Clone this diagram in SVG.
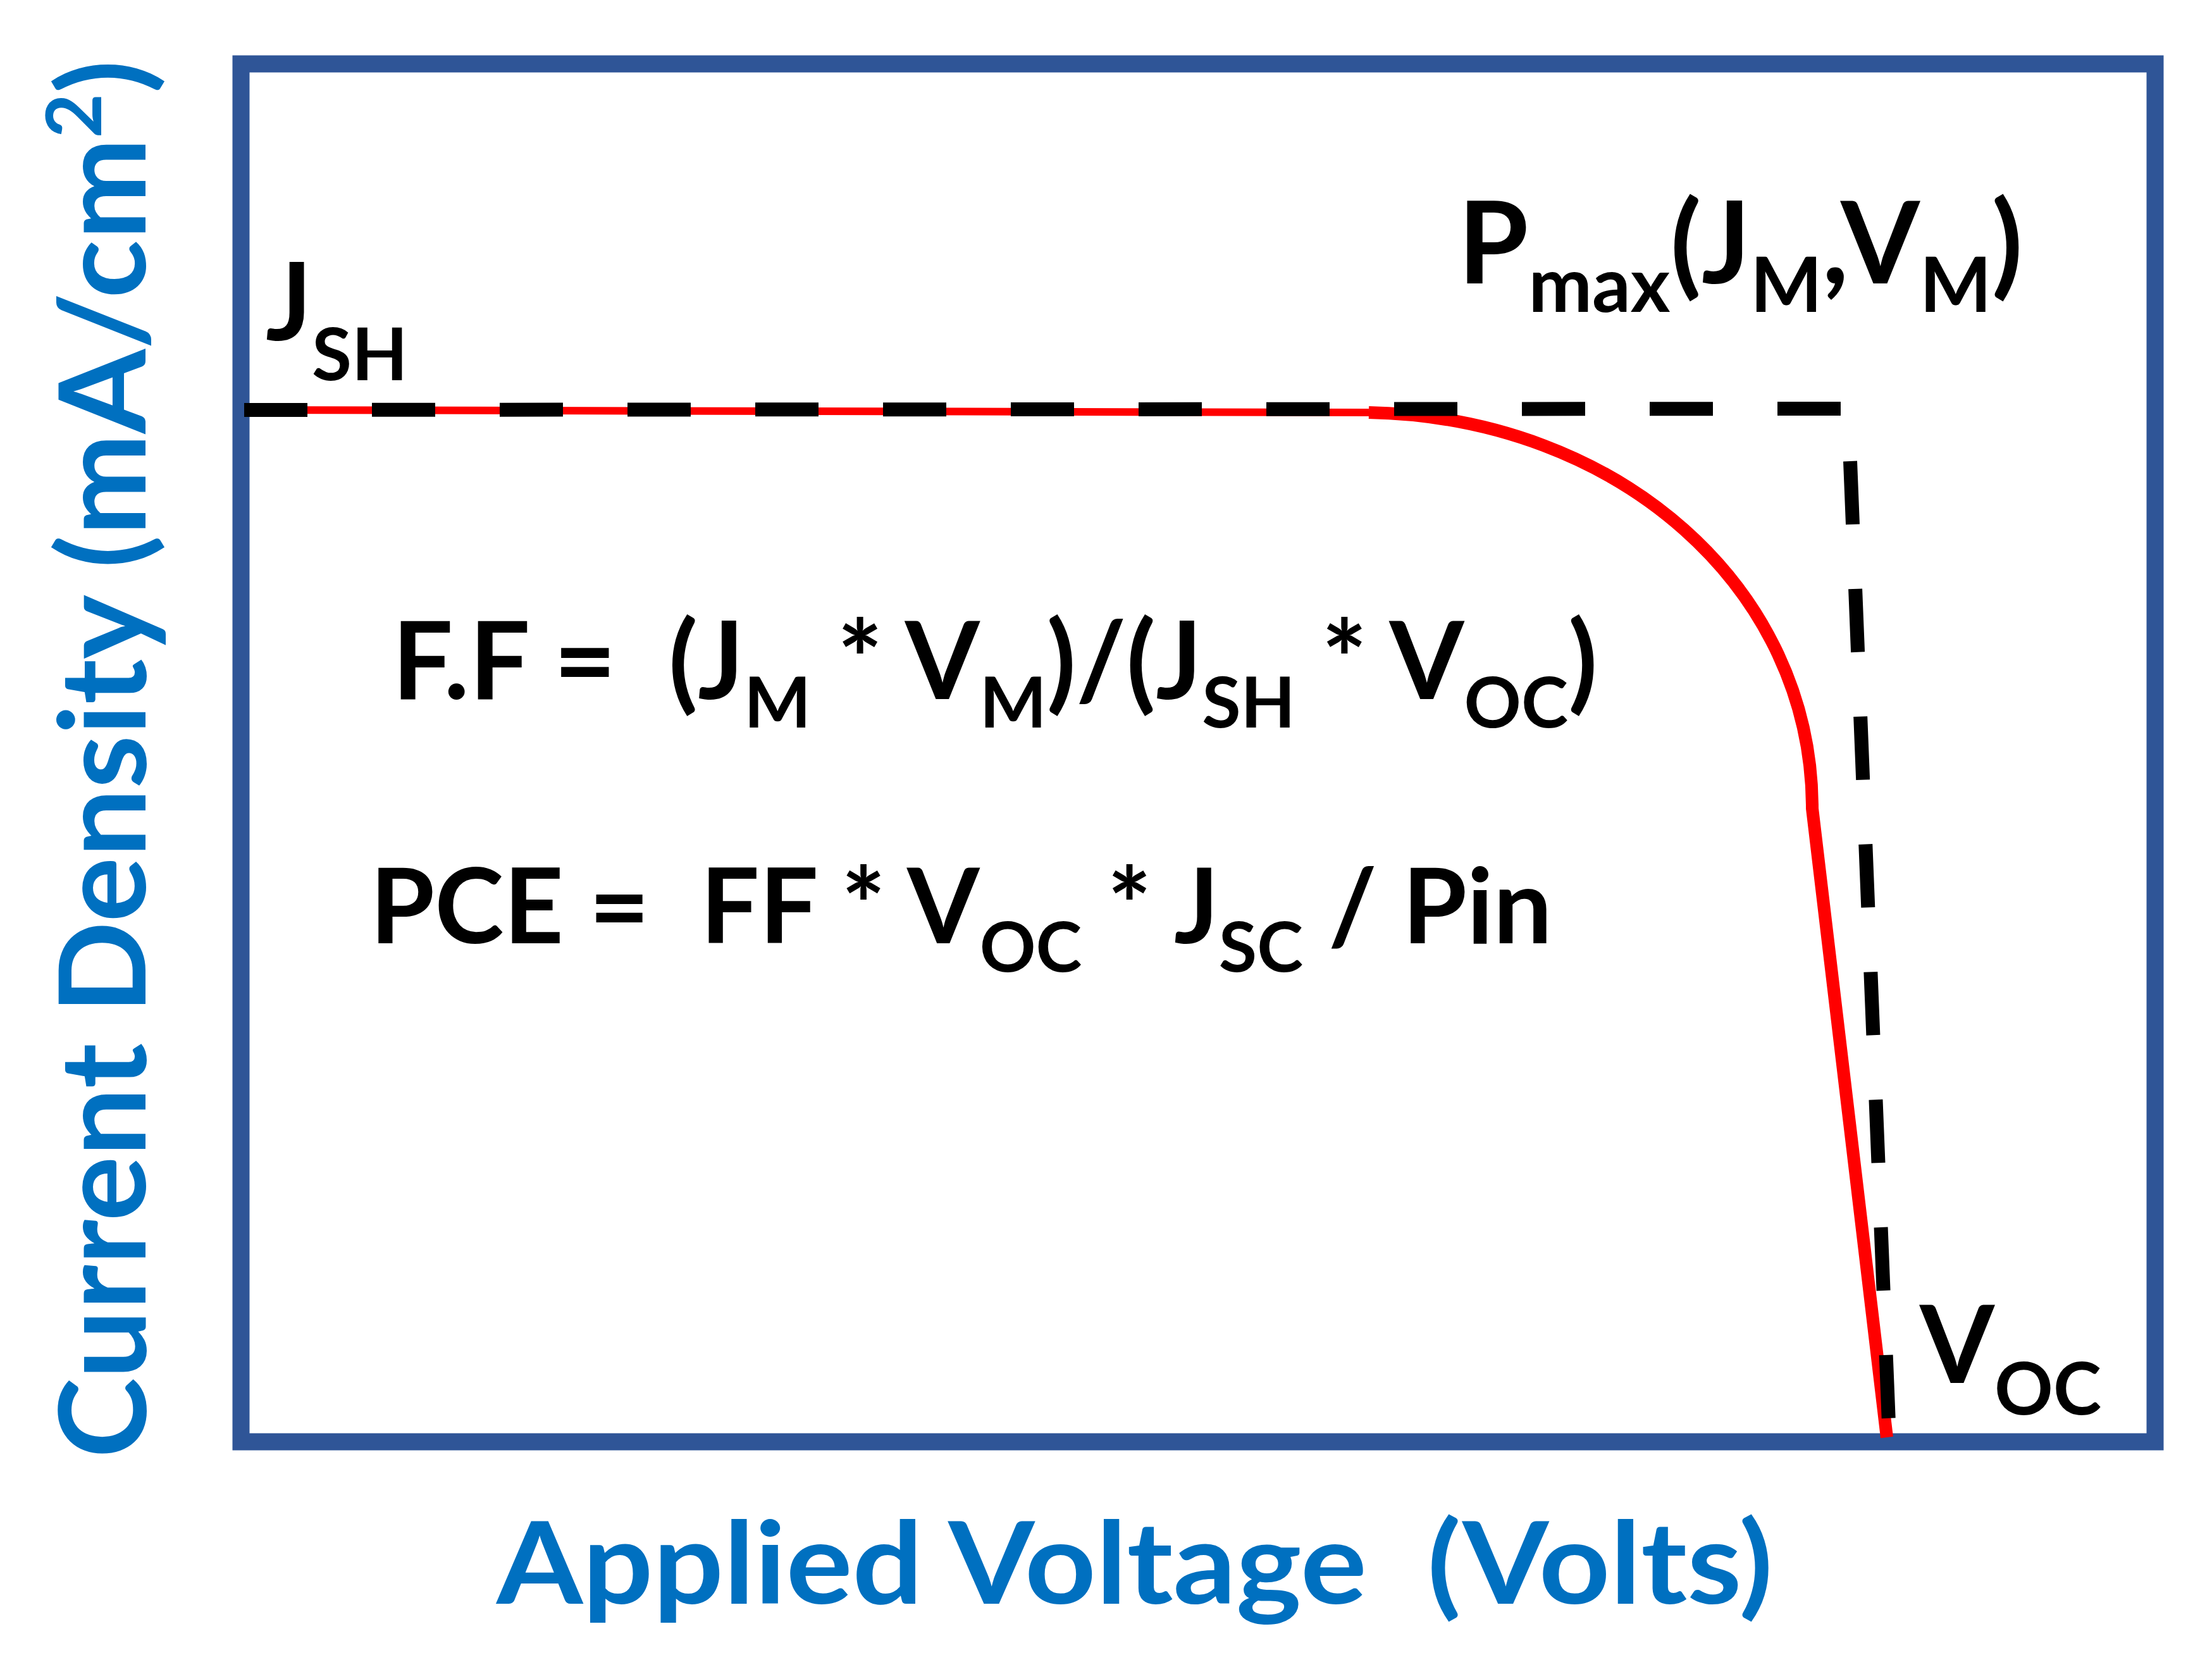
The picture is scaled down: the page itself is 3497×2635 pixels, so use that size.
<svg xmlns="http://www.w3.org/2000/svg" width="3497" height="2635" viewBox="0 0 3497 2635">
<style>
.t{font-family:Lato,"Open Sans","Liberation Sans",sans-serif;font-weight:bold;fill:#000}
.ax{font-family:Lato,"Open Sans","Liberation Sans",sans-serif;font-weight:bold;fill:#0070C0}
.dash{stroke:#000;stroke-width:22;fill:none;stroke-dasharray:100 102}
</style>
<rect width="3497" height="2635" fill="#fff"/>
<g id="frame"><rect x="381" y="101" width="3026" height="2178" fill="none" stroke="#2F5597" stroke-width="27"/></g>
<g id="curve">
<path d="M386,648 L2164,652" stroke="#f00" stroke-width="12" fill="none"/>
<path d="M2164,652 C2560,660 2865,930 2865,1278 L2983,2272" stroke="#f00" stroke-width="20" fill="none"/>
</g>
<g id="connectors">
<path class="dash" d="M386,648 L2933,646"/>
<path class="dash" d="M2925,729 L2987,2275"/>
</g>
<g id="labels">
<text class="ax" transform="translate(230,1200) rotate(-90)" text-anchor="middle" font-size="190" textLength="2210" lengthAdjust="spacingAndGlyphs">Current Density (mA/cm<tspan dy="-70" font-size="120">2</tspan><tspan dy="70">)</tspan></text>
<text class="ax" x="785" y="2535" font-size="180" textLength="2018" lengthAdjust="spacingAndGlyphs" xml:space="preserve">Applied Voltage  (Volts)</text>
<text class="t" x="420" y="538" font-size="170">J<tspan dy="63" font-size="115">SH</tspan></text>
<text class="t" x="2305" y="448" font-size="180">P<tspan dy="45" font-size="120">max</tspan><tspan dy="-45">(J</tspan><tspan dy="45" font-size="120">M</tspan><tspan dy="-45">,V</tspan><tspan dy="45" font-size="120">M</tspan><tspan dy="-45">)</tspan></text>
<text class="t" x="620" y="1105" font-size="170" xml:space="preserve">F.F =  (J<tspan dy="45" font-size="112">M</tspan><tspan dy="-45"> * V</tspan><tspan dy="45" font-size="112">M</tspan><tspan dy="-45">)/(J</tspan><tspan dy="45" font-size="112">SH</tspan><tspan dy="-45"> * V</tspan><tspan dy="45" font-size="112">OC</tspan><tspan dy="-45">)</tspan></text>
<text class="t" x="585" y="1491" font-size="165" xml:space="preserve">PCE =  FF * V<tspan dy="45" font-size="110">OC</tspan><tspan dy="-45"> * J</tspan><tspan dy="45" font-size="110">SC</tspan><tspan dy="-45"> / Pin</tspan></text>
<text class="t" x="3035" y="2186" font-size="170">V<tspan dy="50" font-size="115">OC</tspan></text>
</g>
</svg>
